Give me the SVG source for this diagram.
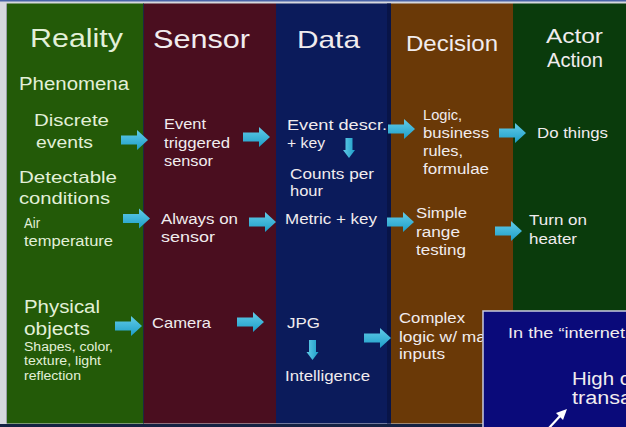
<svg xmlns="http://www.w3.org/2000/svg" width="626" height="427" viewBox="0 0 626 427">
<defs>
<linearGradient id="ag" x1="0" y1="0" x2="0" y2="1">
<stop offset="0" stop-color="#62cbe8"/>
<stop offset="1" stop-color="#1d9ec8"/>
</linearGradient>
<linearGradient id="agd" x1="0" y1="0" x2="1" y2="0">
<stop offset="0" stop-color="#62cbe8"/>
<stop offset="1" stop-color="#1d9ec8"/>
</linearGradient>
<path id="arr" d="M0,-4.5 H16 V-10 L27,0 L16,10 V4.5 H0 Z"/>
<path id="darr" d="M-3.5,0 V12 H-6 L0,20 L6,12 H3.5 V0 Z"/>
</defs>
<style>
text{font-family:"Liberation Sans",Arial,sans-serif;fill:#f1ecee}
.g text{fill:#e2f0d8}
.h{font-size:25px}
.m{font-size:17px}
.s{font-size:14px}
.xs{font-size:12.5px}
.ra{fill:url(#ag)}
.da{fill:url(#agd)}
</style>
<!-- frame -->
<rect x="0" y="0" width="626" height="427" fill="#d6d8de"/>
<rect x="0" y="0" width="626" height="1.5" fill="#4a64a8"/>
<rect x="0" y="424" width="626" height="3" fill="#142242"/>
<!-- columns -->
<g id="columns">
<rect x="7" y="3.5" width="137" height="420" fill="#235a08"/>
<rect x="144" y="3.5" width="132" height="420" fill="#4a0e1f"/>
<rect x="276" y="3.5" width="115" height="420" fill="#0b1b5b"/>
<rect x="387" y="3.5" width="4" height="420" fill="#081448"/>
<rect x="391" y="3.5" width="122" height="420" fill="#6a3907"/>
<rect x="513" y="3.5" width="113" height="420" fill="#0a3b0c"/>
<rect x="6" y="3.5" width="1" height="420" fill="#9aa0a8"/>
<rect x="143" y="3.5" width="1" height="420" fill="#1c2a40"/>
</g>
<g id="reality" class="g">
<text class="h" x="30" y="47" textLength="93" lengthAdjust="spacingAndGlyphs">Reality</text>
<text x="19" y="90" font-size="18" textLength="110" lengthAdjust="spacingAndGlyphs">Phenomena</text>
<text class="m" x="34" y="126" textLength="75" lengthAdjust="spacingAndGlyphs">Discrete</text>
<text class="m" x="36" y="148" textLength="57" lengthAdjust="spacingAndGlyphs">events</text>
<text class="m" x="19" y="183" textLength="98" lengthAdjust="spacingAndGlyphs">Detectable</text>
<text class="m" x="19" y="204" textLength="91" lengthAdjust="spacingAndGlyphs">conditions</text>
<text class="s" x="24" y="227.5" textLength="16" lengthAdjust="spacingAndGlyphs">Air</text>
<text class="s" x="24" y="246" textLength="89" lengthAdjust="spacingAndGlyphs">temperature</text>
<text font-size="18" x="24" y="312.5" textLength="76" lengthAdjust="spacingAndGlyphs">Physical</text>
<text font-size="18" x="24" y="335" textLength="66" lengthAdjust="spacingAndGlyphs">objects</text>
<text class="xs" x="24" y="350.5" textLength="89" lengthAdjust="spacingAndGlyphs">Shapes, color,</text>
<text class="xs" x="24" y="365" textLength="77" lengthAdjust="spacingAndGlyphs">texture, light</text>
<text class="xs" x="24" y="380" textLength="57" lengthAdjust="spacingAndGlyphs">reflection</text>
</g>
<g id="sensor">
<text class="h" x="153" y="48" textLength="97" lengthAdjust="spacingAndGlyphs">Sensor</text>
<text class="s" x="164" y="129" textLength="42" lengthAdjust="spacingAndGlyphs">Event</text>
<text class="s" x="164" y="147.5" textLength="66" lengthAdjust="spacingAndGlyphs">triggered</text>
<text class="s" x="164" y="165.5" textLength="49" lengthAdjust="spacingAndGlyphs">sensor</text>
<text class="s" x="161" y="224" textLength="77" lengthAdjust="spacingAndGlyphs">Always on</text>
<text class="s" x="161" y="241.5" textLength="54" lengthAdjust="spacingAndGlyphs">sensor</text>
<text font-size="15" x="152" y="328" textLength="59" lengthAdjust="spacingAndGlyphs">Camera</text>
</g>
<g id="data">
<text font-size="24" x="297" y="48" textLength="63" lengthAdjust="spacingAndGlyphs">Data</text>
<text class="s" x="287" y="130" textLength="100" lengthAdjust="spacingAndGlyphs">Event descr.</text>
<text class="s" x="287" y="147.5" textLength="38" lengthAdjust="spacingAndGlyphs">+ key</text>
<text class="s" x="290" y="179" textLength="84" lengthAdjust="spacingAndGlyphs">Counts per</text>
<text class="s" x="290" y="196" textLength="33" lengthAdjust="spacingAndGlyphs">hour</text>
<text class="s" x="285" y="224" textLength="92" lengthAdjust="spacingAndGlyphs">Metric + key</text>
<text class="s" x="287" y="328" textLength="33" lengthAdjust="spacingAndGlyphs">JPG</text>
<text class="s" x="285" y="380.5" textLength="85" lengthAdjust="spacingAndGlyphs">Intelligence</text>
</g>
<g id="decision">
<text font-size="22" x="406" y="50.5" textLength="92" lengthAdjust="spacingAndGlyphs">Decision</text>
<text class="s" x="423" y="120" textLength="39" lengthAdjust="spacingAndGlyphs">Logic,</text>
<text class="s" x="423" y="137.5" textLength="66" lengthAdjust="spacingAndGlyphs">business</text>
<text class="s" x="423" y="156" textLength="40" lengthAdjust="spacingAndGlyphs">rules,</text>
<text class="s" x="423" y="174" textLength="66" lengthAdjust="spacingAndGlyphs">formulae</text>
<text class="s" x="416" y="218" textLength="51" lengthAdjust="spacingAndGlyphs">Simple</text>
<text class="s" x="416" y="237" textLength="44" lengthAdjust="spacingAndGlyphs">range</text>
<text class="s" x="416" y="255" textLength="50" lengthAdjust="spacingAndGlyphs">testing</text>
<text class="s" x="399" y="323" textLength="66" lengthAdjust="spacingAndGlyphs">Complex</text>
<text class="s" x="399" y="341.5" textLength="87" lengthAdjust="spacingAndGlyphs">logic w/ ma</text>
<text class="s" x="399" y="359" textLength="46" lengthAdjust="spacingAndGlyphs">inputs</text>
</g>
<g id="actor">
<text font-size="21" x="546" y="43" textLength="57" lengthAdjust="spacingAndGlyphs">Actor</text>
<text font-size="21" x="547" y="66.5" textLength="56" lengthAdjust="spacingAndGlyphs">Action</text>
<text class="s" x="537" y="137.5" textLength="71" lengthAdjust="spacingAndGlyphs">Do things</text>
<text class="s" x="529" y="225" textLength="58" lengthAdjust="spacingAndGlyphs">Turn on</text>
<text class="s" x="529" y="243.5" textLength="48" lengthAdjust="spacingAndGlyphs">heater</text>
</g>
<g id="connectors">
<use href="#arr" class="ra" transform="translate(121,140)"/>
<use href="#arr" class="ra" transform="translate(243,137)"/>
<use href="#arr" class="ra" transform="translate(388,129)"/>
<use href="#arr" class="ra" transform="translate(499,133)"/>
<use href="#arr" class="ra" transform="translate(123,218.5)"/>
<use href="#arr" class="ra" transform="translate(249,222)"/>
<use href="#arr" class="ra" transform="translate(387,222)"/>
<use href="#arr" class="ra" transform="translate(495,231)"/>
<use href="#arr" class="ra" transform="translate(115,326)"/>
<use href="#arr" class="ra" transform="translate(237,322)"/>
<use href="#arr" class="ra" transform="translate(364,338)"/>
<use href="#darr" class="da" transform="translate(349,138)"/>
<use href="#darr" class="da" transform="translate(312.5,340)"/>
</g>
<g id="overlay">
<rect x="483" y="311" width="150" height="125" fill="#0a0a7a" stroke="#c9cce0" stroke-width="1.5"/>
<text class="s" x="508" y="338" textLength="117" lengthAdjust="spacingAndGlyphs">In the “internet</text>
<text font-size="18" x="572" y="384.5" textLength="58" lengthAdjust="spacingAndGlyphs">High c</text>
<text font-size="18" x="572" y="403.5" textLength="60" lengthAdjust="spacingAndGlyphs">transa</text>
<line x1="549" y1="428" x2="561" y2="415" stroke="#ffffff" stroke-width="2.2"/>
<polygon points="567,409 556,413 563,420" fill="#ffffff"/>
</g>
</svg>
